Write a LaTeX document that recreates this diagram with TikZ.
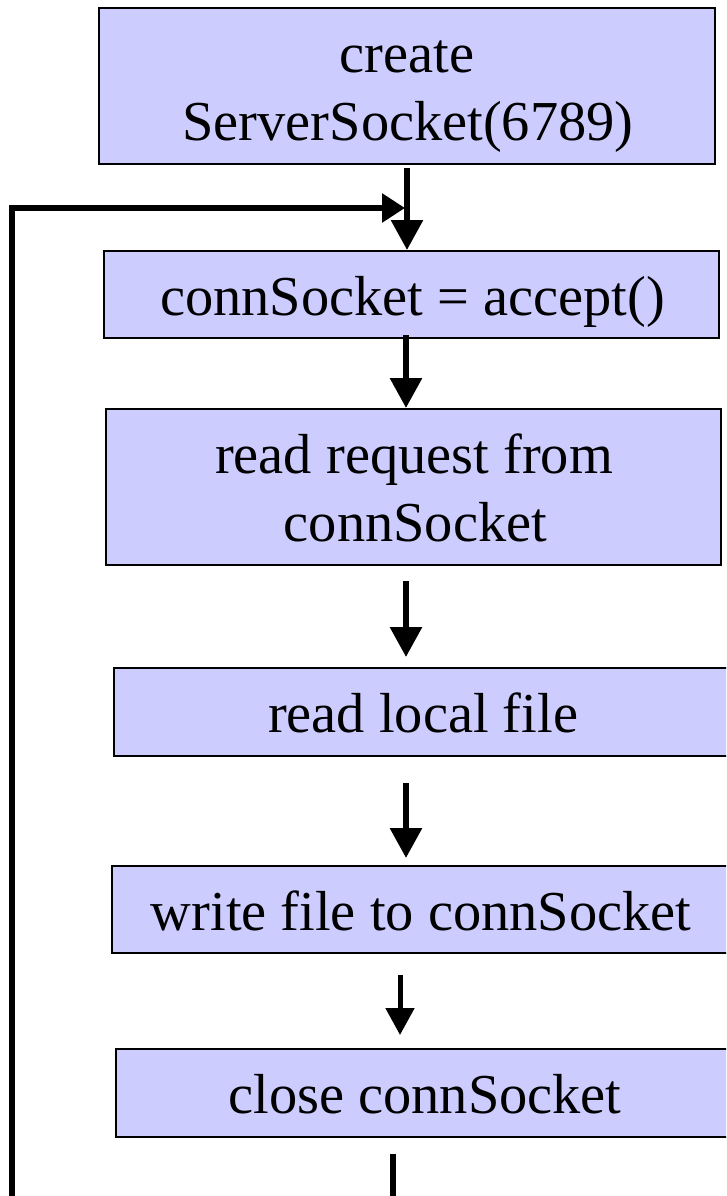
\documentclass[tikz,border=0pt]{standalone}
\usepackage{fontspec}
\setmainfont{Liberation Serif}
\usetikzlibrary{arrows.meta}
\definecolor{boxfill}{RGB}{204,204,255}
\begin{document}
\begin{tikzpicture}[x=1pt,y=-1pt,
  stepbox/.style={draw=black, line width=2pt, fill=boxfill, rectangle, inner sep=0pt},
  steptext/.style={anchor=base, inner sep=0pt, font=\fontsize{56.4}{66}\selectfont},
  flow/.style={line width=6pt, -{Triangle[length=30pt,width=31pt]}},
  flowsmall/.style={line width=5pt, -{Triangle[length=27pt,width=28pt]}},
  loopline/.style={line width=6pt, -{Triangle[length=23pt,width=28pt]}}]
\useasboundingbox (0,0) rectangle (726,1196);
\clip (0,0) rectangle (726,1196);
\fill[white] (0,0) rectangle (726,1196);

% boxes of the server loop
\node[stepbox, minimum width=616pt, minimum height=156pt] (b1) at (407,86) {};
\node[stepbox, minimum width=615pt, minimum height=87pt]  (b2) at (411.5,294.5) {};
\node[stepbox, minimum width=615pt, minimum height=156pt] (b3) at (413.5,487) {};
\node[stepbox, minimum width=618pt, minimum height=88pt]  (b4) at (423,712) {};
\node[stepbox, minimum width=620pt, minimum height=87pt]  (b5) at (422,909.5) {};
\node[stepbox, minimum width=616pt, minimum height=88pt]  (b6) at (424,1093) {};

% box texts
\node[steptext] (t1a) at (407,72.5) {create};
\node[steptext] (t1b) at (408,140.5) {ServerSocket(6789)};
\node[steptext] (t2)  at (412.5,315) {connSocket = accept()};
\node[steptext] (t3a) at (414,473.5) {read request from};
\node[steptext] (t3b) at (415.5,541.5) {connSocket};
\node[steptext] (t4)  at (423,732.5) {read local file};
\node[steptext] (t5)  at (421,930) {write file to connSocket};
\node[steptext] (t6)  at (425,1113.5) {close connSocket};

% columns of the connectors
\coordinate (colT) at (407,0);
\coordinate (colA) at (406,0);
\coordinate (colB) at (400,0);
\coordinate (colC) at (393,0);
\coordinate (loopbot) at (12,1201);
\coordinate (loopin) at (405,208);

% return path back to accept()
\draw[loopline] (b6.south -| colC) ++(0,16) -- (colC |- loopbot) -- (loopbot) -- (loopin -| loopbot) -- (loopin);

% forward arrows
\draw[flow, shorten <=3pt] (b1.south -| colT) -- (b2.north -| colT);
\draw[flow, shorten <=-4pt] (b2.south -| colA) -- (b3.north -| colA);
\draw[flow, shorten <=15pt, shorten >=10pt] (b3.south -| colA) -- (b4.north -| colA);
\draw[flow, shorten <=26pt, shorten >=7pt] (b4.south -| colA) -- (b5.north -| colA);
\draw[flowsmall, shorten <=21pt, shorten >=13pt] (b5.south -| colB) -- (b6.north -| colB);
\end{tikzpicture}
\end{document}
